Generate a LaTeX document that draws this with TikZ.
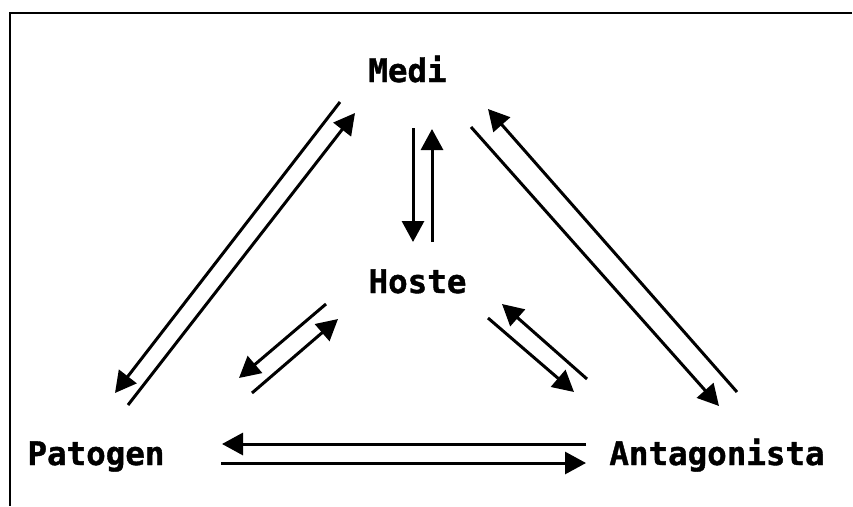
\documentclass[tikz,border=0pt]{standalone}
\usepackage{fontspec}
\setmainfont{DejaVu Sans Mono}[BoldFeatures={FakeBold=1.2}]
\usetikzlibrary{arrows.meta}
\begin{document}
\begin{tikzpicture}[x=1pt,y=-1pt,
  lbl/.style={font=\fontsize{32.5}{36}\selectfont\bfseries, inner sep=0pt, anchor=base},
  arr/.style={line width=3pt, -{Triangle[length=21pt,width=22pt]}},
  frame/.style={line width=2pt}]
\useasboundingbox (0,0) rectangle (853,506);
% frame
\coordinate (ftr) at (852,13);
\coordinate (ftl) at (10,13);
\coordinate (fbl) at (10,506);
\draw[frame] (ftr) -- (ftl) -- (fbl);
% labels
\node[lbl] (medi) at (407.5,82) {Medi};
\node[lbl] (hoste) at (417.5,293) {Hoste};
\node[lbl] (pat) at (96,465) {Patogen};
\node[lbl] (ant) at (717,465) {Antagonista};
% arrow ends
\coordinate (mh1s) at (413,128);  \coordinate (mh1e) at (413,242);
\coordinate (mh2s) at (432,242);  \coordinate (mh2e) at (432,129);
\coordinate (mp1s) at (340,102);  \coordinate (mp1e) at (115,393);
\coordinate (mp2s) at (128,405);  \coordinate (mp2e) at (355,113);
\coordinate (ma1s) at (471,127);  \coordinate (ma1e) at (719,406);
\coordinate (ma2s) at (737,392);  \coordinate (ma2e) at (488,109);
\coordinate (hp1s) at (326,304);  \coordinate (hp1e) at (239,378);
\coordinate (hp2s) at (252,393);  \coordinate (hp2e) at (338,319);
\coordinate (ha1s) at (488,318);  \coordinate (ha1e) at (574,392);
\coordinate (ha2s) at (587,379);  \coordinate (ha2e) at (502,304);
\coordinate (pa1s) at (586,444);  \coordinate (pa1e) at (222,444);
\coordinate (pa2s) at (221,463);  \coordinate (pa2e) at (586,463);
% arrows
\draw[arr] (mh1s) -- (mh1e);
\draw[arr] (mh2s) -- (mh2e);
\draw[arr] (mp1s) -- (mp1e);
\draw[arr] (mp2s) -- (mp2e);
\draw[arr] (ma1s) -- (ma1e);
\draw[arr] (ma2s) -- (ma2e);
\draw[arr] (hp1s) -- (hp1e);
\draw[arr] (hp2s) -- (hp2e);
\draw[arr] (ha1s) -- (ha1e);
\draw[arr] (ha2s) -- (ha2e);
\draw[arr] (pa1s) -- (pa1e);
\draw[arr] (pa2s) -- (pa2e);
\end{tikzpicture}
\end{document}
